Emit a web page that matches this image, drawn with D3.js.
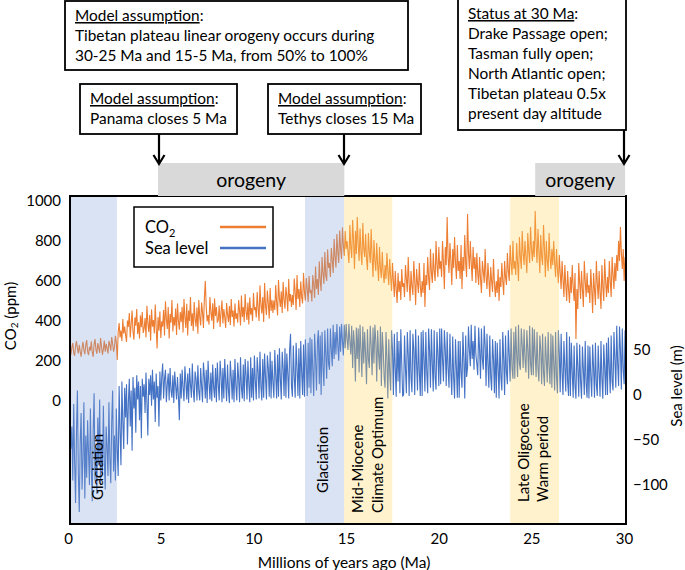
<!DOCTYPE html>
<html><head><meta charset="utf-8">
<script src="https://cdn.jsdelivr.net/npm/d3@7"></script>
<style>
body{margin:0;background:#fff;}
text{font-family:Lato,"Open Sans",sans-serif;fill:#000;}
</style></head>
<body><svg id="c" width="685" height="570"></svg>
<script>
// ---- DATA ----
const step = 0.05; // Ma between samples, starting at 0 Ma
const co2 = [
250,232,268,290,241,226,275,300,262,238,281,247,222,265,296,255,234,279,305,248,
229,271,252,298,244,221,283,310,257,236,290,266,240,315,272,231,259,302,247,286,
262,238,301,279,252,320,287,247,268,326,293,205,345,390,318,352,300,410,336,372,
330,295,402,371,440,318,385,452,347,306,418,376,460,335,394,312,428,369,445,340,
362,415,318,476,390,345,430,301,458,372,405,338,482,366,263,420,352,447,315,398,
372,455,328,498,410,360,470,312,435,392,505,348,420,376,462,330,488,401,356,445,
395,470,342,510,418,365,486,328,452,400,520,375,438,350,495,410,372,468,336,505,
420,378,492,445,365,515,600,470,398,430,382,520,445,402,488,360,512,425,470,392,
405,478,370,445,502,388,460,418,365,490,432,395,475,380,510,420,452,372,488,410,
438,392,505,450,378,528,420,470,395,535,446,405,492,382,518,432,465,400,540,455,
470,418,545,462,400,578,482,438,520,395,590,475,430,552,488,412,565,450,505,440,
502,455,580,490,428,605,515,470,548,440,595,505,462,570,525,448,610,498,535,470,
530,480,612,545,455,630,510,560,470,598,520,488,640,545,502,615,560,495,625,540,
555,498,630,580,515,672,560,610,530,698,602,550,720,640,585,745,628,600,758,665,
690,620,765,705,640,810,720,668,835,745,690,852,760,710,868,780,725,850,760,800,
745,690,880,770,715,905,800,660,850,735,920,782,700,862,745,680,890,760,720,835,
710,655,840,745,690,860,720,620,805,700,650,790,680,600,770,660,615,745,640,590,
680,610,740,650,580,710,620,550,690,600,520,650,560,490,640,545,600,505,660,570,
590,520,680,610,545,720,590,500,650,575,530,700,605,480,660,590,540,690,575,520,
600,540,690,470,630,580,720,615,555,760,640,590,740,650,600,800,680,620,770,660,
700,620,800,690,560,770,680,920,720,640,790,700,580,760,665,820,690,610,780,650,
700,610,780,560,720,650,830,690,620,935,740,660,800,690,600,770,660,720,590,740,
640,580,720,610,540,700,650,590,760,620,560,690,610,520,670,600,545,710,590,520,
600,540,660,500,620,570,690,600,530,700,620,580,740,650,600,780,690,630,800,660,
700,630,790,690,600,820,720,660,850,740,680,800,720,640,840,750,690,870,760,700,
800,720,950,780,690,860,750,640,830,720,680,880,760,620,800,700,650,840,720,660,
760,680,800,690,620,760,660,590,730,640,560,700,610,520,680,580,500,650,560,490,
620,540,680,570,500,640,310,560,460,690,590,510,650,560,470,700,600,520,640,540,
580,490,660,560,440,640,560,480,700,590,510,650,540,460,680,570,500,710,600,520,
620,540,700,600,520,720,630,560,690,600,730,650,800,700,870,740,660,760,600,720,
640];
const seaLevel = [
-18,-60,-35,-95,-10,-75,-120,-40,5,-88,-130,-52,-20,-105,-70,-8,-115,-45,-92,-28,
-65,-100,-15,-82,-118,-40,2,-95,-60,-110,-25,-78,-5,-100,-50,-88,-12,-72,-105,-35,
-58,-90,-8,-70,-98,-30,5,-85,-45,-95,-15,-62,-90,10,-40,-78,15,-30,-60,8,
-25,12,-55,-8,18,-35,5,-62,20,-15,8,-42,22,-5,15,-28,10,-48,18,-2,
12,-20,25,-8,-45,18,0,22,-12,28,-5,15,-30,24,-3,10,-35,26,-6,20,
35,-4,18,28,-8,12,24,-6,30,5,-3,22,-9,26,10,-5,20,-2,-28,24,
-4,28,8,-7,32,15,-5,24,-9,30,12,-3,35,6,-8,26,18,-6,33,4,
-6,30,10,-8,36,20,-4,28,-9,38,14,-5,25,-7,34,8,-3,30,-8,36,
12,-6,38,22,-8,30,-4,40,15,-7,34,5,-9,38,20,-5,28,-8,40,10,
-6,36,18,-8,42,8,-4,34,-7,40,22,-5,38,12,-8,42,-3,30,-6,44,
15,-5,42,26,-4,48,10,-6,40,-3,46,20,-5,44,30,-2,48,-4,38,14,
-3,50,22,-4,45,-2,52,18,-5,48,30,-1,52,-3,46,24,-4,50,68,10,
-2,55,20,-3,58,30,-1,52,-4,60,25,0,56,-2,62,35,-1,58,8,64,
2,62,28,-1,68,40,5,58,72,12,66,0,70,30,10,72,45,18,74,35,
28,74,50,32,78,40,70,45,79,55,38,76,48,79,60,44,78,52,79,62,
50,79,60,45,77,30,72,55,15,75,40,74,25,78,50,20,76,35,70,45,
12,73,40,30,77,55,22,75,35,78,60,15,72,45,28,76,10,70,50,20,
8,70,40,-4,62,25,5,72,50,0,68,30,-2,70,15,60,2,73,35,-1,
0,66,30,2,70,45,-1,72,20,3,68,50,0,73,35,5,66,25,-1,70,
-1,72,40,4,70,25,2,74,50,8,73,35,4,72,20,6,70,45,10,74,
12,74,40,15,72,50,10,70,30,8,68,25,0,65,20,-4,62,30,-3,60,
-3,60,25,8,70,40,-4,66,20,30,76,50,32,78,40,60,28,77,45,35,
22,75,50,18,74,40,28,77,55,10,68,35,8,66,20,5,62,40,2,60,
-3,58,30,-4,62,20,5,70,40,0,66,25,12,72,45,15,74,30,18,70,
18,76,45,20,78,35,28,74,55,30,73,40,25,72,50,18,77,35,22,75,
22,73,45,20,70,30,15,66,50,12,68,25,10,65,40,14,70,30,12,68,
8,66,35,5,70,20,2,72,45,3,68,25,0,60,30,4,70,15,-1,65,
-1,58,25,-3,55,10,-4,58,30,-2,56,15,-4,54,28,0,60,12,-3,55,
-4,54,20,-2,56,30,-3,58,12,-1,55,25,-2,60,18,-4,56,30,0,58,
0,64,30,2,66,15,5,70,40,8,77,35,10,76,50,6,74,28,12,72,
14];
const xTicks = [0,5,10,15,20,25,30];
const co2Ticks = [0,200,400,600,800,1000];
const seaTicks = [-100,-50,0,50];
const glaciations = [[0,2.53],[12.68,14.79]];
const warmPeriods = [[14.79,17.39],[23.75,26.39]];
const orogenies = [[4.75,14.8],[25.1,29.95]];

// ---- CHART ----
const svg = d3.select("#c");
const L=70, R=626, T=196, B=524;
const x = d3.scaleLinear([0,30],[L,R]);
const yC = d3.scaleLinear([0,1000],[401,201]);
const yS = d3.scaleLinear([0,50],[395,350]);

svg.append("defs").append("clipPath").attr("id","clip")
  .append("rect").attr("x",L).attr("y",T).attr("width",R-L).attr("height",B-T);

const g = svg.append("g").attr("clip-path","url(#clip)");
g.append("path").datum(co2)
  .attr("d", d3.line().x((d,i)=>x(i*step)).y(d=>yC(d)))
  .attr("fill","none").attr("stroke","#ED7D31").attr("stroke-width",1.1);
g.append("path").datum(seaLevel)
  .attr("d", d3.line().x((d,i)=>x(i*step)).y(d=>yS(d)))
  .attr("fill","none").attr("stroke","#4472C4").attr("stroke-width",1.1);

g.selectAll("rect.gl").data(glaciations).join("rect").attr("class","gl")
  .attr("x",d=>x(d[0])).attr("width",d=>x(d[1])-x(d[0]))
  .attr("y",T).attr("height",B-T)
  .attr("fill","rgb(132,162,215)").attr("fill-opacity",0.3);
g.selectAll("rect.wp").data(warmPeriods).join("rect").attr("class","wp")
  .attr("x",d=>x(d[0])).attr("width",d=>x(d[1])-x(d[0]))
  .attr("y",T).attr("height",B-T)
  .attr("fill","rgb(255,212,85)").attr("fill-opacity",0.3);

// rotated labels
function vlab(cx, y0, txt){
  svg.append("text").attr("transform",`translate(${cx},${y0}) rotate(-90)`)
    .attr("dominant-baseline","central").attr("text-anchor","start")
    .style("font-size","15px").text(txt);
}
vlab(97,500,"Glaciation");
vlab(322,493,"Glaciation");
vlab(357,513,"Mid-Miocene");
vlab(377,513,"Climate Optimum");
vlab(523,502,"Late Oligocene");
vlab(542,502,"Warm period");

// frame
svg.append("rect").attr("x",L).attr("y",T).attr("width",R-L).attr("height",B-T)
  .attr("fill","none").attr("stroke","#000").attr("stroke-width",2);

// axes
const ax1 = svg.append("g").attr("transform",`translate(${L},0)`)
  .call(d3.axisLeft(yC).tickValues(co2Ticks).tickFormat(d3.format("d")).tickSize(0).tickPadding(9));
const ax2 = svg.append("g").attr("transform",`translate(${R},0)`)
  .call(d3.axisRight(yS).tickValues(seaTicks).tickFormat(d3.format("d")).tickSize(0).tickPadding(7));
const ax3 = svg.append("g").attr("transform",`translate(0,${B})`)
  .call(d3.axisBottom(x).tickValues(xTicks).tickSize(0).tickPadding(9));
[ax1,ax2,ax3].forEach(a=>{a.select(".domain").remove();
  a.selectAll("text").style("font-family","Lato").style("font-size","15px").attr("fill","#000");});
ax3.selectAll("text").attr("dx","-2");

svg.append("text").attr("x",344).attr("y",568).attr("text-anchor","middle")
  .style("font-size","15.5px").text("Millions of years ago (Ma)");
const yl = svg.append("text").attr("transform","translate(10,316) rotate(-90)")
  .attr("text-anchor","middle").attr("dominant-baseline","central").style("font-size","15px");
yl.append("tspan").text("CO");
yl.append("tspan").attr("font-size","10px").attr("dy","4").text("2");
yl.append("tspan").attr("dy","-4").text(" (ppm)");
svg.append("text").attr("transform","translate(676,386) rotate(-90)")
  .attr("text-anchor","middle").attr("dominant-baseline","central")
  .style("font-size","15px").text("Sea level (m)");

// legend
const lg = svg.append("g");
lg.append("rect").attr("x",134).attr("y",207).attr("width",139).attr("height",60)
  .attr("fill","#fff").attr("stroke","#000").attr("stroke-width",1.5);
const lt = lg.append("text").attr("x",145).attr("y",233).style("font-size","16.5px");
lt.append("tspan").text("CO");
lt.append("tspan").attr("font-size","11px").attr("dy","4").text("2");
lg.append("text").attr("x",145).attr("y",254).style("font-size","16.5px").text("Sea level");
lg.append("line").attr("x1",220).attr("x2",266).attr("y1",227).attr("y2",227)
  .attr("stroke","#ED7D31").attr("stroke-width",2.5);
lg.append("line").attr("x1",220).attr("x2",266).attr("y1",248).attr("y2",248)
  .attr("stroke","#4472C4").attr("stroke-width",2.5);

// orogeny bars
orogenies.forEach(o=>{
  svg.append("rect").attr("x",x(o[0])).attr("width",x(o[1])-x(o[0]))
    .attr("y",163).attr("height",T-163).attr("fill","#D9D9D9");
  svg.append("text").attr("x",(x(o[0])+x(o[1]))/2).attr("y",187)
    .attr("text-anchor","middle").style("font-size","19.5px").text("orogeny");
});

// annotation boxes
const FS = "15.4px";
function box(x0,y0,w,h,head,lines){
  svg.append("rect").attr("x",x0).attr("y",y0).attr("width",w).attr("height",h)
    .attr("fill","#fff").attr("stroke","#000").attr("stroke-width",1.8);
  const t0 = svg.append("text").attr("x",x0+10).attr("y",y0+20).style("font-size",FS);
  t0.append("tspan").attr("text-decoration","underline").text(head);
  t0.append("tspan").text(":");
  lines.forEach((l,i)=>svg.append("text").attr("x",x0+10).attr("y",y0+40+20*i)
    .style("font-size",FS).text(l));
}
box(65,1,343,69,"Model assumption",["Tibetan plateau linear orogeny occurs during","30-25 Ma and 15-5 Ma, from 50% to 100%"]);
box(80,84,157,50,"Model assumption",["Panama closes 5 Ma"]);
box(268,84,153,50,"Model assumption",["Tethys closes 15 Ma"]);
box(458,-1,168,131,"Status at 30 Ma",["Drake Passage open;","Tasman fully open;","North Atlantic open;","Tibetan plateau 0.5x","present day altitude"]);

function arrow(ax,y0,y1){
  svg.append("line").attr("x1",ax).attr("x2",ax).attr("y1",y0).attr("y2",y1-1)
    .attr("stroke","#000").attr("stroke-width",2.2);
  svg.append("path").attr("d",`M${ax-5.5},${y1-9}L${ax},${y1}L${ax+5.5},${y1-9}`)
    .attr("fill","none").attr("stroke","#000").attr("stroke-width",2.2);
}
arrow(159,134,164);
arrow(344,134,164);
arrow(624,130,164);
</script></body></html>
